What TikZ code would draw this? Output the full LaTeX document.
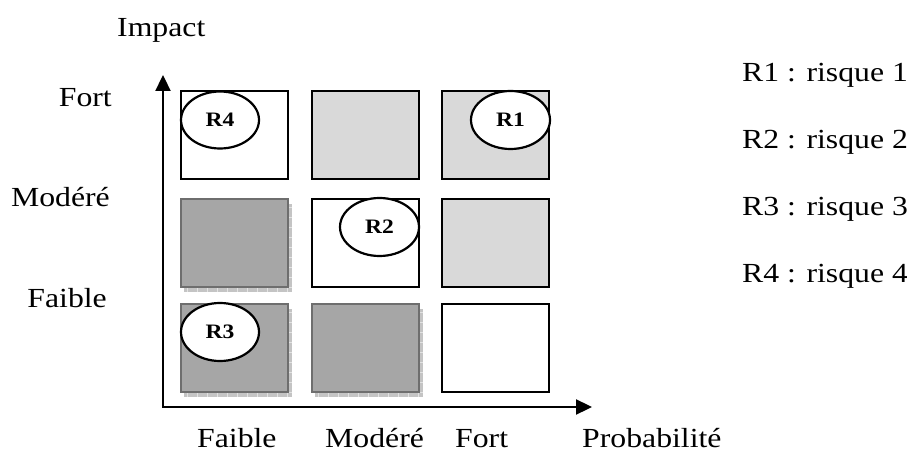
\documentclass[tikz,border=0pt]{standalone}
\usepackage{fontspec}
\setmainfont{Liberation Serif}[FakeStretch=1.15]
\usetikzlibrary{shapes.geometric,arrows.meta}

\definecolor{lightcell}{HTML}{D9D9D9}
\definecolor{darkcell}{HTML}{A6A6A6}
\definecolor{darkedge}{HTML}{6E6E6E}
\definecolor{shadowcol}{HTML}{C4C4C4}
\definecolor{shadowgrid}{HTML}{E2E2E2}

\tikzset{
  lbl/.style={inner sep=0pt, font=\fontsize{27.6}{30}\selectfont},
  cellwhite/.style={draw=black, line width=2pt, fill=white},
  celllight/.style={draw=black, line width=2pt, fill=lightcell},
  celldark/.style={draw=darkedge, line width=2.6pt, fill=darkcell},
  cellshadow/.style={fill=shadowcol},
  riskmark/.style={ellipse, draw=black, line width=2.2pt, fill=white,
    minimum width=78pt, minimum height=57pt, inner sep=0pt,
    font=\fontsize{20.5}{22}\selectfont\bfseries},
  axisline/.style={line width=2.3pt,
    {Triangle[length=16pt,width=15pt]}-{Triangle[length=16pt,width=15pt]}}
}

% dark cell with its grid shadow: left x, top y, name
\newcommand\darkcellat[3]{%
  \fill[cellshadow] (#1+3,#2+5) rectangle (#1+111,#2+93);
  \foreach \k in {0,10,...,100}
    \draw[shadowgrid, line width=0.6pt] (#1+6+\k,#2+89) -- (#1+6+\k,#2+93);
  \foreach \k in {0,10,...,80}
    \draw[shadowgrid, line width=0.6pt] (#1+107,#2+8+\k) -- (#1+111,#2+8+\k);
  \draw[celldark] (#1,#2) rectangle (#1+107,#2+88) node[coordinate] (#3) {};
}

\begin{document}
\begin{tikzpicture}[x=1pt, y=-1pt]
\useasboundingbox (0,0) rectangle (907,454);

% axes
\coordinate (origin) at (163,407);
\coordinate (ytip) at (163,75);
\coordinate (xtip) at (592,407);
\draw[axisline] (ytip) -- (origin) -- (xtip);

% axis titles
\node[lbl, anchor=base west] (impact) at (117,37) {Impact};
\node[lbl, anchor=base west] (proba) at (582,447) {Probabilité};

% impact levels
\node[lbl, anchor=base east] (yfort) at (112,107) {Fort};
\node[lbl, anchor=base east] (ymod) at (110,207) {Modéré};
\node[lbl, anchor=base east] (yfaible) at (107,307) {Faible};

% probability levels
\node[lbl, anchor=base west] (xfaible) at (197,447) {Faible};
\node[lbl, anchor=base west] (xmod) at (325,447) {Modéré};
\node[lbl, anchor=base west] (xfort) at (455,447) {Fort};

% matrix cells, top row
\draw[cellwhite] (181,91) rectangle (288,179);
\draw[celllight] (312,91) rectangle (419,179);
\draw[celllight] (442,91) rectangle (549,179);
% middle row
\darkcellat{181}{199}{c21}
\draw[cellwhite] (312,199) rectangle (419,287);
\draw[celllight] (442,199) rectangle (549,287);
% bottom row
\darkcellat{181}{304}{c31}
\darkcellat{312}{304}{c32}
\draw[cellwhite] (442,304) rectangle (549,392);

% risks
\node[riskmark] (r4) at (220,120) {R4};
\node[riskmark, minimum width=79pt, minimum height=58pt] (r1) at (510.5,120) {R1};
\node[riskmark, minimum width=79pt, minimum height=58pt] (r2) at (379.5,227) {R2};
\node[riskmark, minimum height=58pt] (r3) at (220,332) {R3};

% legend
\node[lbl, anchor=base west] (leg1) at (742,82) {R1 : risque 1};
\node[lbl, anchor=base west] (leg2) at (742,149) {R2 : risque 2};
\node[lbl, anchor=base west] (leg3) at (742,216) {R3 : risque 3};
\node[lbl, anchor=base west] (leg4) at (742,283) {R4 : risque 4};
\end{tikzpicture}
\end{document}
